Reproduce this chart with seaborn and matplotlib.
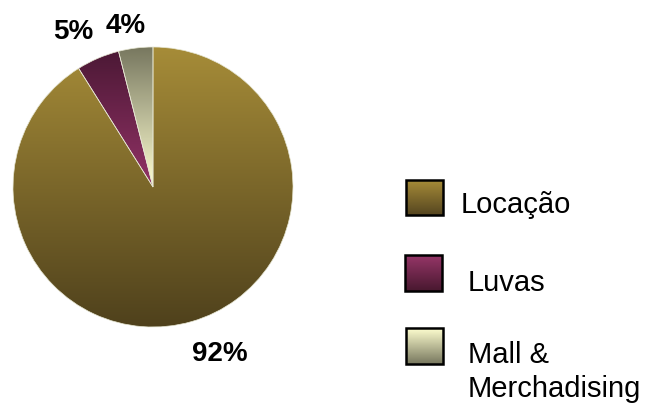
import numpy as np
import matplotlib
matplotlib.use("Agg")
import matplotlib.pyplot as plt
from matplotlib.colors import to_rgb
from matplotlib.patches import Rectangle
import seaborn as sns

# Revenue share by category
categories = ["Locação", "Luvas", "Mall &\nMerchadising"]
shares = [92, 5, 4]
pct_labels = [f"{v}%" for v in shares]

# Gradient colours (top, bottom) for each wedge and each legend swatch
wedge_grad = [("#a68c38", "#4f411c"), ("#4a1834", "#923266"), ("#77775f", "#ffffd2")]
swatch_grad = [("#a68c38", "#554520"), ("#963668", "#48182f"), ("#ffffd0", "#77775e")]

sns.set_style("white")
plt.rcParams["font.family"] = ["Liberation Sans", "DejaVu Sans"]

W, H = 647, 405
fig = plt.figure(figsize=(W / 100, H / 100), dpi=100)
fig.patch.set_facecolor("white")

cx, cy, r = 153, 187, 140
ax = fig.add_axes([(cx - r) / W, (H - cy - r) / H, 2 * r / W, 2 * r / H])


def gradient(top, bottom, n=256):
    t = np.linspace(0, 1, n)[:, None, None]
    return (1 - t) * np.array(to_rgb(top)) + t * np.array(to_rgb(bottom))


wedges, texts = ax.pie(shares, labels=pct_labels, startangle=90, counterclock=False,
                       colors=["none"] * len(shares), labeldistance=1.25,
                       wedgeprops=dict(edgecolor="#e6e6d2", linewidth=0.5),
                       textprops=dict(fontsize=20, fontweight="bold", color="black"))

for i, w in enumerate(wedges):
    top, bottom = wedge_grad[i]
    # the large wedge shades over the full disc, the thin ones from rim to centre
    ext = (-1, 1, -1, 1) if i == 0 else (-1, 1, 0, 1)
    im = ax.imshow(gradient(top, bottom), extent=ext, origin="upper",
                   aspect="auto", interpolation="bilinear", zorder=0.5)
    im.set_clip_path(w)

label_pos = [(0.475, -1.243), (-0.571, 1.057), (-0.193, 1.10)]
for t, (x, y) in zip(texts, label_pos):
    t.set_position((x, y))
    t.set_ha("center")
    t.set_va("baseline")

ax.set_xlim(-1, 1)
ax.set_ylim(-1, 1)
ax.set_aspect("equal")
ax.axis("off")

# Legend drawn in figure pixel coordinates
lg = fig.add_axes([0, 0, 1, 1], facecolor="none")
swatches = [(406, 180, 443, 215), (405, 255, 442, 291), (406, 328, 443, 364)]
text_anchor = [(461, 213), (468, 291), (468, 397)]
for i, (x0, y0, x1, y1) in enumerate(swatches):
    top, bottom = swatch_grad[i]
    lg.imshow(gradient(top, bottom), extent=(x0, x1, y1, y0), origin="upper",
              aspect="auto", interpolation="bilinear")
    lg.add_patch(Rectangle((x0, y0), x1 - x0, y1 - y0, fill=False,
                           edgecolor="black", linewidth=1.8))
    tx, ty = text_anchor[i]
    lg.text(tx, ty, categories[i], fontsize=21, color="black", ha="left",
            va="baseline", linespacing=1.28)
lg.set_xlim(0, W)
lg.set_ylim(H, 0)
lg.axis("off")

fig.savefig("out.png", dpi=100, facecolor="white")
